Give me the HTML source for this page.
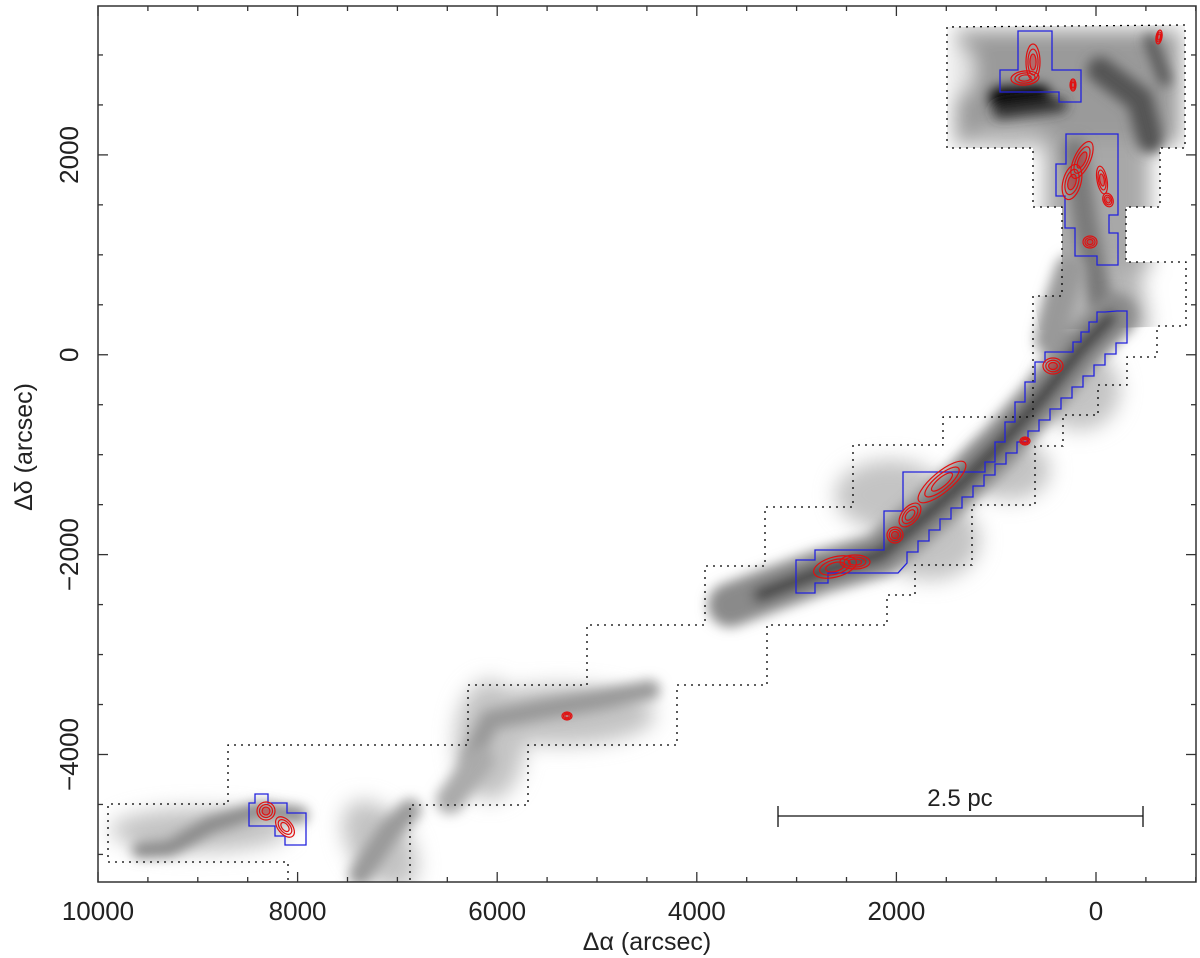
<!DOCTYPE html>
<html><head><meta charset="utf-8"><style>
html,body{margin:0;padding:0;background:#fff;}
svg{display:block;font-family:"Liberation Sans",sans-serif;}
</style></head><body>
<svg id="chart" width="1200" height="958" viewBox="0 0 1200 958" xmlns="http://www.w3.org/2000/svg">
<defs>
<filter id="blur4" x="-20%" y="-20%" width="140%" height="140%"><feGaussianBlur stdDeviation="4"/></filter>
<filter id="blur6" x="-20%" y="-20%" width="140%" height="140%"><feGaussianBlur stdDeviation="6"/></filter>
<filter id="blur12" x="-30%" y="-30%" width="160%" height="160%"><feGaussianBlur stdDeviation="10"/></filter>
<clipPath id="plotclip"><rect x="98" y="6" width="1098" height="876"/></clipPath>
<clipPath id="topclip"><polygon points="947,27 1185,25 1185,148 1160,148 1160,207 1126,207 1126,262 1186,262 1186,326 1040,330 1033,296 1062,296 1062,207 1033,207 1033,148 947,148"/></clipPath>
</defs>
<g id="emission" clip-path="url(#plotclip)">
 <g clip-path="url(#topclip)">
  <g filter="url(#blur12)">
   <rect x="955" y="30" width="225" height="115" fill="#9a9a9a"/>
   <rect x="1045" y="140" width="105" height="130" fill="#a8a8a8"/>
   <path d="M1060,260 L1140,270 L1150,330 L1090,380 L1040,330 Z" fill="#b5b5b5"/>
   <ellipse cx="960" cy="70" rx="14" ry="25" fill="#e8e8e8"/>
   <ellipse cx="1010" cy="138" rx="40" ry="12" fill="#bbb"/>
  </g>
  <g filter="url(#blur6)" fill="none" stroke-linecap="round">
   <path d="M1000,98 L1040,96" stroke="#000" stroke-width="22"/>
   <path d="M1000,112 L1060,105" stroke="#333" stroke-width="14"/>
   <path d="M1100,70 L1140,100 L1150,140" stroke="#555" stroke-width="26"/>
   <path d="M1150,40 L1165,80" stroke="#555" stroke-width="12"/>
   <path d="M1075,150 L1085,220 L1100,300" stroke="#7a7a7a" stroke-width="24"/>
  </g>
 </g>
 <g filter="url(#blur12)" fill="#c4c4c4">
  <ellipse cx="560" cy="715" rx="95" ry="30"/>
  <ellipse cx="490" cy="740" rx="35" ry="60"/>
  <ellipse cx="200" cy="830" rx="90" ry="22"/>
  <ellipse cx="380" cy="845" rx="30" ry="50" transform="rotate(-35 380 845)"/>
  <ellipse cx="890" cy="495" rx="55" ry="35"/>
  <ellipse cx="930" cy="540" rx="50" ry="40"/>
  <ellipse cx="1080" cy="390" rx="40" ry="40"/>
  <ellipse cx="1010" cy="470" rx="40" ry="30"/>
 </g>
 <g filter="url(#blur6)" fill="none" stroke-linecap="round" stroke-linejoin="round">
  <path d="M730,605 L770,590 L820,572 L880,555 L915,525 L960,485 L1000,445 L1040,400 L1080,350 L1115,315" stroke="#8a8a8a" stroke-width="44"/>
  <path d="M760,595 L820,572 L880,555 L915,525 L960,485 L1000,445 L1040,400 L1080,350 L1110,318" stroke="#3c3c3c" stroke-width="14"/>
  <path d="M140,850 L170,848 L210,825 L260,810 L300,815" stroke="#888" stroke-width="16"/>
  <path d="M360,875 L390,830 L410,810" stroke="#999" stroke-width="22"/>
  <path d="M470,760 L490,720 L540,710 L600,700 L650,690" stroke="#999" stroke-width="20"/>
  <path d="M450,800 L480,760" stroke="#aaa" stroke-width="28"/>
  <path d="M1050,340 L1060,300 L1070,270" stroke="#999" stroke-width="30"/>
 </g>
</g>
<path id="survey-outline" fill="none" stroke="#000" stroke-width="1.3" stroke-dasharray="2,5"
 d="M288,880 L288,862 L108,862 L108,804 L228,804 L228,745 L468,745 L468,685 L587,685 L587,625 L705,625 L705,566 L765,566 L765,507 L853,507 L853,445 L943,445 L943,417 L1033,417 L1033,296 L1062,296 L1062,207 L1033,207 L1033,148 L947,148 L947,27 L1185,25 L1185,148 L1160,148 L1160,207 L1126,207 L1126,262 L1186,262 L1186,326 L1157,326 L1157,357 L1127,357 L1127,385 L1098,385 L1098,415 L1063,415 L1063,446 L1035,446 L1035,505 L972,505 L972,565 L915,565 L915,595 L887,595 L887,625 L767,625 L767,685 L677,685 L677,745 L528,745 L528,805 L410,805 L410,880"/>
<g id="blue" fill="none" stroke="#2222dd" stroke-width="1.3">
 <polygon points="1018,31 1052,31 1052,70 1081,70 1081,102 1059,102 1059,92 1000,92 1000,70 1018,70"/>
 <polygon points="1066,134 1118,134 1118,215 1109,215 1109,233 1118,233 1118,265 1097,265 1097,256 1075,256 1075,228 1065,228 1065,196 1056,196 1056,164 1066,164"/>
 <polygon points="255,794 268,794 268,803 287,803 287,813 306,813 306,845 285,845 285,836 275,836 275,826 249,826 249,803 255,803"/>
 <polygon id="mainblue" points=""/>
</g>
<g id="red" fill="none" stroke="#e01010" stroke-width="1.2"></g>
<g id="axes"></g>
<g stroke="#111" stroke-width="1.3">
 <line x1="778" y1="816" x2="1143" y2="816"/>
 <line x1="778" y1="806" x2="778" y2="827"/>
 <line x1="1143" y1="806" x2="1143" y2="827"/>
</g>
<text x="960" y="806" font-size="24" text-anchor="middle" fill="#222">2.5 pc</text>
<text x="647" y="950" font-size="25" text-anchor="middle" fill="#222">Δα (arcsec)</text>
<text transform="translate(32,447) rotate(-90)" font-size="25" text-anchor="middle" fill="#222">Δδ (arcsec)</text>
</svg>
<script>
const xTicks=[10000,8000,6000,4000,2000,0];
const yTicks=[2000,0,-2000,-4000];
const minorStep=500;
const xMin=10000, xMax=-1002, yMax=3490, yMin=-5276;
const L=98,R=1196,T=6,B=882;
function X(v){return L+(v-xMin)/(xMax-xMin)*(R-L);}
function Y(v){return T+(yMax-v)/(yMax-yMin)*(B-T);}
const NS="http://www.w3.org/2000/svg";
const ax=document.getElementById('axes');
function mk(tag,attrs,parent){const e=document.createElementNS(NS,tag);for(const k in attrs)e.setAttribute(k,attrs[k]);(parent||ax).appendChild(e);return e;}
const frame=mk('rect',{x:L,y:T,width:R-L,height:B-T,fill:'none',stroke:'#333','stroke-width':1.5});


for(let v=-1000;v<=10000;v+=minorStep){const x=X(v);if(x<L-0.5||x>R+0.5)continue;const major=(v%2000===0);const len=major?10:5;
 mk('line',{x1:x,y1:B,x2:x,y2:B-len,stroke:'#333','stroke-width':1.3});
 mk('line',{x1:x,y1:T,x2:x,y2:T+len,stroke:'#333','stroke-width':1.3});}
for(let v=-5000;v<=3500;v+=minorStep){const y=Y(v);if(y<T||y>B)continue;const major=(v%2000===0);const len=major?10:5;
 mk('line',{x1:L,y1:y,x2:L+len,y2:y,stroke:'#333','stroke-width':1.3});
 mk('line',{x1:R,y1:y,x2:R-len,y2:y,stroke:'#333','stroke-width':1.3});}
xTicks.forEach(v=>{const t=mk('text',{x:X(v),y:920,'font-size':26,'text-anchor':'middle',fill:'#222'});t.textContent=String(v);
 
 });
yTicks.forEach(v=>{const t=mk('text',{transform:'translate(78,'+Y(v)+') rotate(-90)','font-size':26,'text-anchor':'middle',fill:'#222'});t.textContent=(v<0?'\u2212'+(-v):String(v));
 
 });
(function(){let p=[[796,593],[796,560],[815,560],[815,550],[884,550],[884,511],[903,511],[903,472],[985,472]];
 let x=985,y=472;for(let i=0;i<6;i++){y-=10;p.push([x,y]);x+=10;p.push([x,y]);y-=10;p.push([x,y]);}
 p.push([1045,352],[1073,352]);x=1073;y=352;
 for(let i=0;i<4;i++){y-=10;p.push([x,y]);x+=8;p.push([x,y]);}
 p.push([1117,311],[1127,311],[1127,343]);x=1127;y=343;
 while(y<560){x-=11;p.push([x,y]);y+=11;p.push([x,y]);}
 p.push([898,573],[828,573],[828,583],[815,583],[815,593]);
 document.getElementById('mainblue').setAttribute('points',p.map(a=>a.join(',')).join(' '));})();
const red=document.getElementById('red');
const blobs=[[1033,62,7,18,0],[1025,78,14,7,-5],[1073,85,3,6,0],[1159,37,3,7,10],[1082,160,8,20,25],[1072,182,9,18,15],[1102,180,5,14,-10],[1108,200,5,7,-20],[1090,242,7,6,0],[1053,366,10,8,0],[1025,441,5,4,0],[942,482,30,10,-40],[910,515,14,8,-50],[895,535,8,8,-60],[835,567,22,10,-15],[855,562,15,7,0],[266,811,9,9,0],[285,827,12,7,50],[567,716,5,4,0]];
blobs.forEach(b=>{for(let k=0;k<3;k++){const s=1-k*0.28;
 mk('ellipse',{cx:b[0],cy:b[1],rx:Math.max(1.5,b[2]*s),ry:Math.max(1.5,b[3]*s),transform:'rotate('+b[4]+' '+b[0]+' '+b[1]+')',fill:k===2&&b[2]<12?'rgba(224,16,16,0.35)':'none'},red);}});
</script>
</body></html>
